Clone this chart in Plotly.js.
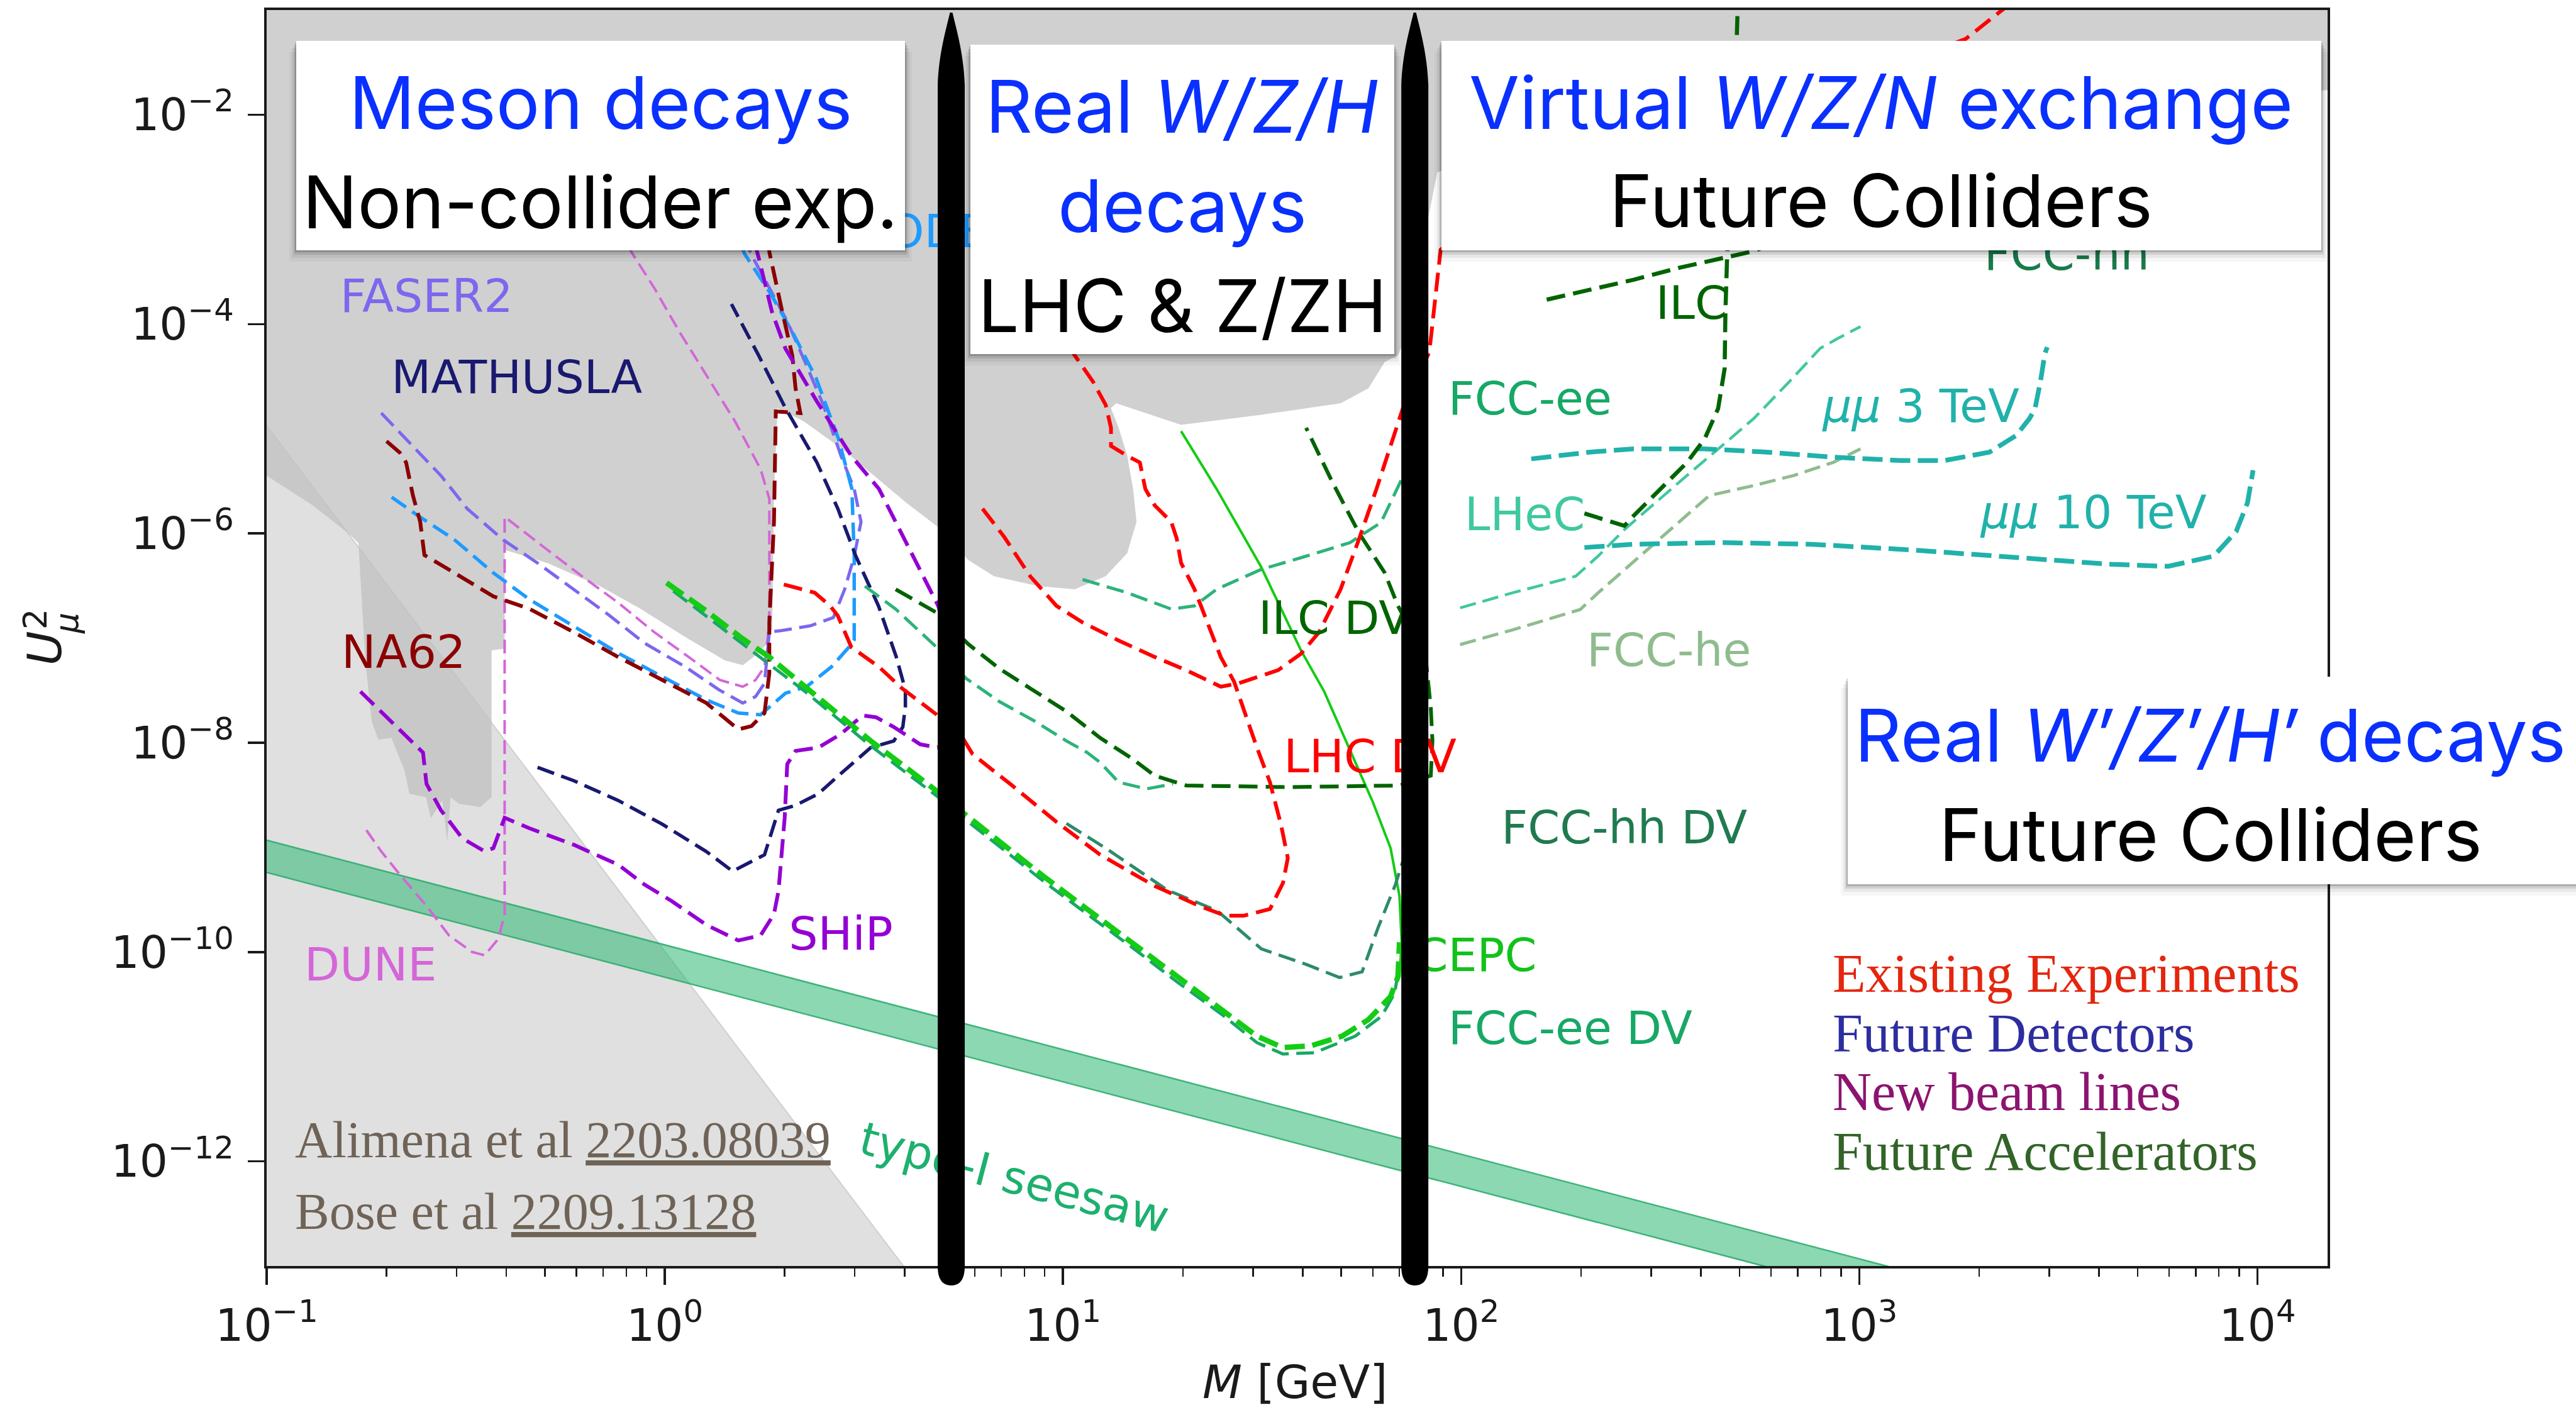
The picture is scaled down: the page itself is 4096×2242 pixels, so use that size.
<!DOCTYPE html>
<html>
<head>
<meta charset="utf-8">
<script src="https://cdn.plot.ly/plotly-3.0.1.min.js"></script>
<style>
  html, body { margin: 0; padding: 0; background: #ffffff; }
  #chart { width: 4096px; height: 2242px; }
</style>
</head>
<body>
<div id="chart"></div>
<script>
// ---------------- HNL muon-mixing sensitivity: data (M in GeV, U^2) ----------------

// Excluded region from existing searches (grey) and BBN-disfavoured corner (light grey)
const existingM  = [0.1, 0.1, 0.1305, 0.1623, 0.170, 0.1768, 0.1836, 0.1907, 0.2058, 0.222, 0.2284, 0.2512, 0.2585, 0.2762, 0.2842, 0.2897, 0.3039, 0.3437, 0.3672, 0.3672, 0.396, 0.396, 0.507, 0.687, 0.871, 1.126, 1.414, 1.57, 1.69, 1.79, 1.86, 1.88, 1.92, 2.23, 2.80, 3.36, 4.02, 4.91, 5.77, 6.71, 8.67, 10.7, 12.8, 14.5, 15.3, 15.0, 14.5, 13.8, 13.2, 13.6, 16.6, 19.8, 31.5, 49.8, 58.5, 64.3, 69.4, 77.1, 81.5, 87.1, 110, 286, 1186, 4930, 15000, 15000];
const existingU2 = [0.1, 3.56e-6, 1.85e-6, 9.65e-7, 8.05e-7, 6.35e-8, 1.60e-8, 1.07e-8, 1.11e-8, 5.40e-9, 3.25e-9, 3.02e-9, 1.89e-9, 2.81e-9, 1.14e-9, 3.02e-9, 2.61e-9, 2.43e-9, 3.02e-9, 7.62e-8, 7.91e-8, 6.96e-7, 5.21e-7, 3.13e-7, 1.89e-7, 1.02e-7, 6.12e-8, 5.50e-8, 6.84e-8, 8.50e-8, 1.22e-7, 2.39e-6, 1.57e-5, 1.18e-5, 6.35e-6, 3.56e-6, 1.99e-6, 1.11e-6, 5.60e-7, 3.90e-7, 3.13e-7, 2.92e-7, 3.90e-7, 6.47e-7, 1.29e-6, 2.66e-6, 5.50e-6, 1.02e-5, 1.57e-5, 1.75e-5, 1.36e-5, 1.09e-5, 1.36e-5, 1.75e-5, 2.43e-5, 4.34e-5, 5.02e-5, 1.29e-4, 7.90e-4, 2.81e-3, 4.04e-3, 5.81e-3, 9.31e-3, 1.34e-2, 1.72e-2, 0.1];
const bbnM  = [0.1, 4.4, 0.1];
const bbnU2 = [1.06e-5, 6e-14, 6e-14];

// Type-I seesaw band (U^2 = m_nu / M)
const seesawM       = [0.1, 15000];
const seesawUpperU2 = [1.17e-9, 7.8e-15];
const seesawLowerU2 = [5.75e-10, 3.83e-15];

// Non-collider experiments
const na62M  = [0.200, 0.216, 0.224, 0.233, 0.243, 0.249, 0.287, 0.371, 0.457, 0.590, 0.763, 0.986, 1.27, 1.53, 1.65, 1.78, 1.83, 1.83, 1.88, 1.90, 2.19, 2.13, 2.09, 1.97, 1.88, 1.83, 1.78];
const na62U2 = [7.6e-6, 5.9e-6, 4.75e-6, 2.3e-6, 1.29e-6, 6.2e-7, 4.5e-7, 2.5e-7, 1.9e-7, 1.14e-7, 6.6e-8, 4.0e-8, 2.4e-8, 1.34e-8, 1.44e-8, 1.92e-8, 4.6e-8, 1.41e-7, 1.29e-6, 1.46e-5, 1.41e-5, 2.43e-5, 5.0e-5, 1.34e-4, 3.2e-4, 4.9e-4, 1.6e-3];
const faser2M  = [0.194, 0.229, 0.274, 0.319, 0.393, 0.479, 0.590, 0.728, 0.888, 1.126, 1.37, 1.57, 1.69, 1.78, 1.83, 1.97, 2.32, 2.65, 2.83, 2.99, 3.11, 2.99, 2.77, 2.50, 2.25, 2.03, 1.83, 1.65, 1.47];
const faser2U2 = [1.41e-5, 7.35e-6, 3.56e-6, 1.72e-6, 8.65e-7, 5.21e-7, 2.92e-7, 1.63e-7, 8.97e-8, 5.30e-8, 3.19e-8, 2.39e-8, 2.76e-8, 3.69e-8, 1.14e-7, 1.18e-7, 1.31e-7, 1.57e-7, 2.92e-7, 6.02e-7, 1.29e-6, 2.66e-6, 5.50e-6, 1.69e-5, 4.34e-5, 1.06e-4, 2.22e-4, 4.58e-4, 1.36e-3];
const duneM  = [0.178, 0.194, 0.216, 0.254, 0.287, 0.328, 0.353, 0.382, 0.396, 0.396, 0.396, 0.507, 0.619, 0.763, 0.940, 1.148, 1.375, 1.57, 1.69, 1.78, 1.83, 1.83, 1.74, 1.50, 1.27, 1.09, 0.940, 0.823, 0.721];
const duneU2 = [1.46e-9, 9.14e-10, 5.50e-10, 2.66e-10, 1.44e-10, 1.0e-10, 9.3e-11, 1.34e-10, 2.30e-10, 4.93e-8, 1.44e-6, 6.96e-7, 3.90e-7, 2.18e-7, 1.14e-7, 6.59e-8, 3.97e-8, 3.43e-8, 3.97e-8, 5.30e-8, 1.41e-7, 2.14e-6, 4.11e-6, 1.18e-5, 3.25e-5, 8.34e-5, 2.22e-4, 4.93e-4, 1.36e-3];
const shipM  = [0.172, 0.206, 0.247, 0.252, 0.274, 0.310, 0.353, 0.371, 0.396, 0.457, 0.590, 0.763, 0.888, 1.039, 1.27, 1.53, 1.74, 1.88, 1.93, 2.00, 2.03, 2.13, 2.43, 2.76, 3.14, 3.39, 3.76, 4.38, 4.86, 5.29, 5.29, 4.86, 4.02, 3.45, 2.94, 2.41, 2.01, 1.86, 1.73, 1.61];
const shipU2 = [3.08e-8, 1.60e-8, 8.05e-9, 4.04e-9, 2.26e-9, 1.22e-9, 9.14e-10, 9.82e-10, 1.92e-9, 1.52e-9, 1.06e-9, 6.84e-10, 4.42e-10, 3.08e-10, 1.82e-10, 1.29e-10, 1.44e-10, 2.30e-10, 3.83e-10, 1.92e-9, 6.24e-9, 8.34e-9, 8.97e-9, 1.20e-8, 1.82e-8, 1.75e-8, 1.41e-8, 9.64e-9, 8.97e-9, 1.49e-8, 6.35e-8, 2.03e-7, 8.65e-7, 2.66e-6, 5.50e-6, 1.82e-5, 5.80e-5, 1.29e-4, 3.96e-4, 1.14e-3];
const mathuslaM  = [0.479, 0.590, 0.763, 0.986, 1.27, 1.48, 1.78, 1.93, 2.13, 2.43, 2.76, 3.29, 3.76, 3.96, 4.02, 4.02, 3.81, 3.44, 3.02, 2.72, 2.41, 2.01, 1.72, 1.47];
const mathuslaU2 = [5.81e-9, 4.34e-9, 2.81e-9, 1.66e-9, 9.14e-10, 5.91e-10, 8.50e-10, 2.26e-9, 2.52e-9, 3.25e-9, 5.02e-9, 8.97e-9, 1.04e-8, 1.41e-8, 2.22e-8, 3.19e-8, 6.67e-8, 2.03e-7, 6.02e-7, 1.72e-6, 4.75e-6, 1.57e-5, 5.02e-5, 1.55e-4];
const codexM  = [0.206, 0.239, 0.295, 0.371, 0.457, 0.590, 0.763, 0.986, 1.27, 1.53, 1.74, 1.88, 2.01, 2.27, 2.62, 2.91, 2.99, 2.99, 2.95, 2.73, 2.40, 2.11, 1.85, 1.59, 1.40];
const codexU2 = [2.22e-6, 1.49e-6, 8.81e-7, 4.19e-7, 2.34e-7, 1.31e-7, 7.19e-8, 4.27e-8, 2.57e-8, 1.92e-8, 1.85e-8, 2.39e-8, 2.97e-8, 3.43e-8, 5.30e-8, 8.31e-8, 9.64e-8, 6.02e-7, 2.66e-6, 8.01e-6, 3.02e-5, 7.87e-5, 1.91e-4, 4.62e-4, 1.36e-3];

// LHC (displaced vertex and prompt)
const lhcDvM  = [1.99, 2.38, 2.60, 2.72, 2.94, 3.45, 3.94, 4.82, 5.60, 5.93, 7.45, 9.63, 12.4, 17.0, 22.0, 25.6, 28.4, 33.1, 35.7, 36.7, 35.3, 33.1, 30.7, 28.4, 26.9, 24.9, 23.1, 21.4, 19.8, 19.3, 18.7, 17.0, 16.1, 15.6, 14.5, 13.2, 13.2, 12.8, 11.9, 10.7, 9.35];
const lhcDvU2 = [3.25e-7, 2.71e-7, 2.03e-7, 1.63e-7, 8.19e-8, 5.30e-8, 3.31e-8, 1.85e-8, 1.11e-8, 7.76e-9, 3.90e-9, 1.75e-9, 8.50e-10, 4.27e-10, 2.76e-10, 2.22e-10, 2.22e-10, 2.57e-10, 4.58e-10, 7.91e-10, 1.63e-9, 4.19e-9, 8.97e-9, 2.14e-8, 3.83e-8, 6.59e-8, 1.41e-7, 2.92e-7, 5.21e-7, 8.97e-7, 1.29e-6, 1.85e-6, 2.66e-6, 4.75e-6, 5.50e-6, 6.84e-6, 1.02e-5, 1.69e-5, 2.81e-5, 5.02e-5, 1.29e-4];
const lhcM  = [6.28, 7.11, 8.27, 9.63, 11.2, 13.8, 17.0, 20.4, 24.9, 27.6, 34.7, 39.6, 44.0, 49.8, 55.3, 61.3, 71.4, 80.0, 83.2, 88.8, 110, 738, 1850, 2350];
const lhcU2 = [1.72e-6, 9.31e-7, 3.90e-7, 2.03e-7, 1.41e-7, 9.46e-8, 6.59e-8, 4.93e-8, 3.43e-8, 3.69e-8, 4.93e-8, 7.08e-8, 1.14e-7, 2.92e-7, 8.65e-7, 2.66e-6, 1.57e-5, 4.04e-5, 5.40e-5, 5.12e-4, 9.47e-4, 1.44e-2, 5.30e-2, 0.109];

// Future colliders
const cepcM  = [1.01, 1.27, 1.57, 1.83, 2.25, 2.75, 3.29, 3.98, 4.86, 5.71, 6.91, 8.93, 11.5, 14.9, 19.3, 25.1, 30.7, 35.7, 42.0, 50.2, 58.5, 66.5, 69.4, 70.0];
const cepcU2 = [3.37e-7, 1.82e-7, 9.82e-8, 6.59e-8, 3.43e-8, 1.79e-8, 1.04e-8, 6.02e-9, 3.37e-9, 2.03e-9, 1.14e-9, 5.30e-10, 2.57e-10, 1.24e-10, 5.81e-11, 2.81e-11, 1.57e-11, 1.22e-11, 1.27e-11, 1.57e-11, 2.26e-11, 3.76e-11, 5.81e-11, 1.24e-10];
const cepcSolidM  = [19.8, 24.3, 31.4, 39.6, 45.3, 52.7, 60.0, 66.5, 70.0, 70.9, 70.0];
const cepcSolidU2 = [9.47e-6, 2.66e-6, 4.84e-7, 7.62e-8, 3.08e-8, 8.19e-9, 2.71e-9, 9.82e-10, 3.43e-10, 1.24e-10, 5.81e-11];
const fccEeDvM  = [1.05, 1.57, 2.25, 3.29, 4.86, 5.71, 6.91, 8.93, 11.5, 14.9, 19.3, 25.1, 30.7, 35.7, 42.8, 54.2, 63.1, 68.1, 70.0];
const fccEeDvU2 = [2.81e-7, 8.81e-8, 3.08e-8, 9.31e-9, 3.02e-9, 1.82e-9, 1.02e-9, 4.75e-10, 2.30e-10, 1.11e-10, 5.21e-11, 2.52e-11, 1.36e-11, 1.06e-11, 1.09e-11, 1.57e-11, 2.43e-11, 4.04e-11, 7.76e-11];
const ilcDvM  = [3.80, 4.81, 5.77, 6.91, 8.27, 10.2, 12.4, 14.9, 17.0, 20.4, 36.7, 70.0, 83.9, 84.7, 83.9, 81.5, 69.4, 64.3, 55.3, 47.5, 40.8];
const ilcDvU2 = [2.92e-7, 1.75e-7, 8.81e-8, 5.12e-8, 3.31e-8, 1.99e-8, 1.11e-8, 7.08e-9, 4.84e-9, 3.90e-9, 3.76e-9, 3.90e-9, 4.84e-9, 1.04e-8, 2.14e-8, 6.35e-8, 2.03e-7, 4.19e-7, 1.02e-6, 3.08e-6, 1.02e-5];
const fccHhDvM  = [10.2, 12.8, 18.3, 24.4, 31.5, 40.8, 49.5, 56.4, 61.9, 68.4, 72.0];
const fccHhDvU2 = [1.69e-9, 9.82e-10, 3.90e-10, 2.48e-10, 1.07e-10, 7.62e-11, 5.70e-11, 6.47e-11, 1.72e-10, 4.42e-10, 8.19e-10];
const fccEeM  = [3.18, 3.80, 4.81, 5.71, 6.91, 8.51, 10.2, 11.5, 12.4, 13.8, 16.2, 18.9, null, 11.2, 14.5, 18.7, 21.4, 24.3, 31.4, 40.6, 52.6, 62.9, 71.6, 75.5];
const fccEeU2 = [3.13e-7, 1.89e-7, 8.19e-8, 4.11e-8, 2.48e-8, 1.60e-8, 1.04e-8, 8.05e-9, 6.47e-9, 4.19e-9, 3.62e-9, 4.04e-9, null, 3.62e-7, 2.71e-7, 1.89e-7, 2.03e-7, 2.92e-7, 4.51e-7, 6.02e-7, 8.16e-7, 1.27e-6, 3.56e-6, 7.08e-6];
const ilcM  = [164, 210, 271, 351, 453, 543, 738, null, 204, 257, 271, 316, 369, 409, 442, 459, 461, 466, 481, 495];
const ilcU2 = [1.71e-4, 2.13e-4, 2.65e-4, 3.43e-4, 4.28e-4, 4.97e-4, 7.90e-4, null, 1.55e-6, 1.18e-6, 1.47e-6, 2.66e-6, 4.75e-6, 8.01e-6, 1.56e-5, 3.76e-5, 1.29e-4, 4.93e-4, 3.37e-3, 0.106];
const lhecM  = [99.4, 135, 194, 221, 258, 308, 369, 453, 543, 667, 798, 885, 1007];
const lhecU2 = [1.94e-7, 2.71e-7, 3.90e-7, 6.08e-7, 1.10e-6, 1.98e-6, 3.57e-6, 6.93e-6, 1.25e-5, 2.81e-5, 5.87e-5, 7.32e-5, 9.47e-5];
const fccHeM  = [99.4, 135, 199, 221, 258, 308, 369, 420, 543, 684, 863, 1007];
const fccHeU2 = [8.65e-8, 1.20e-7, 1.87e-7, 2.71e-7, 4.54e-7, 8.16e-7, 1.47e-6, 2.30e-6, 2.86e-6, 3.57e-6, 4.79e-6, 6.42e-6];
const mumu3M  = [150, 210, 271, 409, 587, 863, 1268, 1641, 2123, 2477, 2675, 2762, 2855, 2924, 2965];
const mumu3U2 = [5.15e-6, 5.97e-6, 6.42e-6, 6.42e-6, 5.97e-6, 5.34e-6, 4.97e-6, 4.97e-6, 5.97e-6, 8.61e-6, 1.25e-5, 1.55e-5, 2.92e-5, 5.21e-5, 6.02e-5];
const mumu10M  = [204, 271, 453, 759, 1365, 2630, 4300, 5970, 7760, 8840, 9440, 9750];
const mumu10U2 = [7.32e-7, 7.87e-7, 8.16e-7, 7.87e-7, 6.93e-7, 5.78e-7, 5.06e-7, 4.84e-7, 6.06e-7, 1.04e-6, 1.96e-6, 4.01e-6];

// Curve labels (anchored at their left edge)
const labelText  = ['FASER2', 'MATHUSLA', 'NA62', 'DUNE', 'SHiP', 'CODEX-b', 'ILC DV', 'LHC DV', 'FCC-hh DV', 'CEPC', 'FCC-ee DV', 'FCC-ee', 'LHeC', 'FCC-he', 'ILC', 'FCC-hh', '<i>μμ</i> 3 TeV', '<i>μμ</i> 10 TeV'];
const labelM     = [0.1529, 0.2057, 0.1541, 0.1244, 2.048, 3.02, 30.96, 35.86, 126.2, 77.0, 92.8, 92.8, 102.0, 206.8, 308.1, 2058, 809, 2018];
const labelU2    = [1.68e-4, 2.81e-5, 6.67e-8, 6.84e-11, 1.35e-10, 6.96e-4, 1.41e-7, 6.71e-9, 1.41e-9, 8.49e-11, 1.69e-11, 1.77e-5, 1.39e-6, 6.91e-8, 1.44e-4, 4.27e-4, 1.50e-5, 1.44e-6];
const labelColor = ['#7b68ee', '#191970', '#8b0000', '#d466d8', '#9400d3', '#1e9bff', '#006400', '#ff0000', '#207a50', '#12c21a', '#17a866', '#17a866', '#40c8a0', '#8fbc8f', '#006400', '#1a7a4a', '#20b2aa', '#20b2aa'];

// Masses separating the production regimes (b-meson / W mass scale)
const regimeEdgesM = [5.24, 76.5];

// Axis ticks
const xTickVals = [0.1, 1, 10, 100, 1000, 10000];
const xTickText = ['10<sup>\u22121</sup>', '10<sup>0</sup>', '10<sup>1</sup>', '10<sup>2</sup>', '10<sup>3</sup>', '10<sup>4</sup>'];
const yTickVals = [1e-12, 1e-10, 1e-8, 1e-6, 1e-4, 1e-2];
const yTickText = ['10<sup>\u221212</sup>', '10<sup>\u221210</sup>', '10<sup>\u22128</sup>', '10<sup>\u22126</sup>', '10<sup>\u22124</sup>', '10<sup>\u22122</sup>'];

// ---------------- drawing ----------------
const W = 4096, H = 2242;
const M = { l: 424, r: 395, t: 16, b: 229 };
const PW = W - M.l - M.r, PH = H - M.t - M.b;
const px2x = p => (p - M.l) / PW;          // pixel -> paper x
const px2y = p => (H - M.b - p) / PH;      // pixel -> paper y

const xMinor = [];
for (let d = -1; d <= 4; d++) for (let k = 2; k <= 9; k++) {
  const v = k * Math.pow(10, d);
  if (v < 15000) xMinor.push(v);
}

function dashed(x, y, color, width, dash) {
  return { type: 'scatter', mode: 'lines', x, y, hoverinfo: 'skip', showlegend: false,
           connectgaps: false, line: { color, width, dash: dash || 'solid' } };
}

const SANS = 'DejaVu Sans, sans-serif';

const traces = [
  { type: 'scatter', mode: 'lines', x: bbnM, y: bbnU2, fill: 'toself', fillcolor: '#e0e0e0',
    line: { color: '#cfcfcf', width: 2 }, hoverinfo: 'skip', showlegend: false },
  { type: 'scatter', mode: 'lines', x: existingM, y: existingU2, fill: 'toself',
    fillcolor: 'rgba(192,192,192,0.74)', line: { width: 0 }, hoverinfo: 'skip', showlegend: false },
  { type: 'scatter', mode: 'lines', x: seesawM, y: seesawUpperU2,
    line: { color: 'rgba(40,170,105,0.85)', width: 2.5 }, hoverinfo: 'skip', showlegend: false },
  { type: 'scatter', mode: 'lines', x: seesawM, y: seesawLowerU2, fill: 'tonexty',
    fillcolor: 'rgba(46,184,114,0.55)', line: { color: 'rgba(40,170,105,0.85)', width: 2.5 },
    hoverinfo: 'skip', showlegend: false },

  dashed(duneM, duneU2, '#d466d8', 4, '22px,10px'),
  dashed(faser2M, faser2U2, '#7b68ee', 5, '28px,12px'),
  dashed(codexM, codexU2, '#1e9bff', 5.5, '28px,12px'),
  dashed(na62M, na62U2, '#8b0000', 6, '30px,13px'),
  dashed(mathuslaM, mathuslaU2, '#191970', 5.5, '28px,12px'),
  dashed(shipM, shipU2, '#9400d3', 6, '30px,13px'),

  dashed(fccEeDvM, fccEeDvU2, '#17a866', 5, '28px,12px'),
  dashed(cepcM, cepcU2, '#14cc14', 8.5, '32px,12px'),
  dashed(cepcSolidM, cepcSolidU2, '#14cc14', 4, 'solid'),
  dashed(fccEeM, fccEeU2, '#2db37a', 5, '28px,12px'),
  dashed(fccHhDvM, fccHhDvU2, '#2e8b6a', 5, '28px,12px'),
  dashed(ilcDvM, ilcDvU2, '#006400', 6, '30px,13px'),
  dashed(lhcDvM, lhcDvU2, '#ff0000', 6, '30px,13px'),
  dashed(lhcM, lhcU2, '#ff0000', 6, '30px,13px'),

  dashed(fccHeM, fccHeU2, '#8fbc8f', 5, '26px,11px'),
  dashed(lhecM, lhecU2, '#40c8a0', 4.5, '26px,11px'),
  dashed(mumu3M, mumu3U2, '#20b2aa', 7.5, '32px,12px'),
  dashed(mumu10M, mumu10U2, '#20b2aa', 7.5, '32px,12px'),
  dashed(ilcM, ilcU2, '#006400', 6.5, '30px,13px'),

  { type: 'scatter', mode: 'text', x: labelM, y: labelU2, text: labelText,
    textposition: 'middle right', hoverinfo: 'skip', showlegend: false,
    textfont: { family: SANS, size: 73, color: labelColor } }
];

// white caption boxes with a soft drop shadow
function rectPx(x0, y0, x1, y1, fill) {
  return { type: 'rect', xref: 'paper', yref: 'paper', layer: 'above',
           x0: px2x(x0), x1: px2x(x1), y0: px2y(y1), y1: px2y(y0),
           fillcolor: fill, line: { width: 0 } };
}
function boxWithShadow(x0, y0, x1, y1) {
  const out = [];
  [[3, 2, 0.16], [7, 4, 0.10], [12, 7, 0.06], [18, 11, 0.035]].forEach(([d, s, a]) => {
    out.push(rectPx(x0 - s, y0 + d, x1 + s, y1 + d, 'rgba(0,0,0,' + a + ')'));
  });
  out.push(rectPx(x0, y0, x1, y1, '#ffffff'));
  return out;
}

const strokePath = 'M -2,0.998 L 2,0.998 C 8,0.985 20,0.965 21.5,0.94 L 21.5,0 ' +
  'C 21.5,-0.012 12,-0.0155 0,-0.0155 C -12,-0.0155 -21.5,-0.012 -21.5,0 ' +
  'L -21.5,0.94 C -20,0.965 -8,0.985 -2,0.998 Z';

const shapes = [
  ...boxWithShadow(471, 65, 1439, 398),
  ...boxWithShadow(1543, 71, 2217, 563),
  ...boxWithShadow(2292, 65, 3691, 398),
  ...boxWithShadow(2938, 1076, 4096, 1406),
  { type: 'line', xref: 'x', yref: 'y', layer: 'above',
    x0: 3.62, y0: 1.57e-12, x1: 15.9, y1: 3.56e-13,
    line: { color: 'rgba(0,0,0,0)', width: 0 },
    label: { text: 'type-I seesaw', textposition: 'middle', yanchor: 'middle', padding: 0,
             font: { family: SANS, size: 73, color: '#1db06e' } } },
  ...regimeEdgesM.map(m => ({
    type: 'path', xref: 'x', yref: 'paper', xsizemode: 'pixel', xanchor: m, layer: 'above',
    path: strokePath, fillcolor: '#000000', line: { width: 0 } }))
];

const boxFont = (color, size) => ({ family: 'Inter, "Liberation Sans", sans-serif', size: size || 116, color });
const BLUE = '#0a30ff';
function note(text, x, y, font, xanchor) {
  return { xref: 'paper', yref: 'paper', x, y, text, showarrow: false,
           xanchor: xanchor || 'center', yanchor: 'middle', font };
}
const serif = (color, size) => ({ family: '"Liberation Serif", "DejaVu Serif", serif', size: size || 86, color });

const annotations = [
  note('Meson decays', 0.1620, 0.9264, boxFont(BLUE)),
  note('Non-collider exp.', 0.1620, 0.8473, boxFont('#000000')),
  note('Real <i>W/Z/H</i>', 0.4443, 0.9232, boxFont(BLUE)),
  note('decays', 0.4443, 0.8441, boxFont(BLUE)),
  note('LHC &amp; Z/ZH', 0.4443, 0.7647, boxFont('#000000')),
  note('Virtual <i>W/Z/N</i> exchange', 0.7833, 0.9264, boxFont(BLUE)),
  note('Future Colliders', 0.7833, 0.8482, boxFont('#000000')),
  note('Real <i>W\u2032/Z\u2032/H\u2032</i> decays', 0.9432, 0.4224, boxFont(BLUE)),
  note('Future Colliders', 0.9432, 0.3437, boxFont('#000000')),

  note('Alimena et al <u>2203.08039</u>', 0.0130, 0.1005, serif('#6f6357', 82), 'left'),
  note('Bose et al <u>2209.13128</u>', 0.0130, 0.0431, serif('#6f6357', 82), 'left'),

  note('Existing Experiments', 0.7592, 0.2329, serif('#e4260f'), 'left'),
  note('Future Detectors', 0.7592, 0.1855, serif('#2d2da0'), 'left'),
  note('New beam lines', 0.7592, 0.1385, serif('#8c1470'), 'left'),
  note('Future Accelerators', 0.7592, 0.0909, serif('#326428'), 'left'),

  // axis titles
  note('<i>M</i> [GeV]', 0.4992, -0.0925, { family: SANS, size: 73, color: '#1a1a1a' }),
  Object.assign(note('<i>U</i>', -0.1079, 0.4918, { family: SANS, size: 75, color: '#1a1a1a' }), { textangle: -90 }),
  Object.assign(note('2', -0.1125, 0.5150, { family: SANS, size: 52, color: '#1a1a1a' }), { textangle: -90 }),
  Object.assign(note('<i>μ</i>', -0.0972, 0.5120, { family: SANS, size: 52, color: '#1a1a1a' }), { textangle: -90 })
];

const axisCommon = {
  type: 'log', showgrid: false, zeroline: false, showline: true, mirror: true,
  linecolor: '#1a1a1a', linewidth: 4, ticks: 'outside', ticklen: 26, tickwidth: 3.5,
  tickcolor: '#1a1a1a', tickmode: 'array', fixedrange: true,
  tickfont: { family: SANS, size: 71, color: '#1a1a1a' }
};

const layout = {
  width: W, height: H, margin: M,
  paper_bgcolor: '#ffffff', plot_bgcolor: '#ffffff', showlegend: false,
  xaxis: Object.assign({}, axisCommon, {
    range: [-1, Math.log10(15000)], tickvals: xTickVals, ticktext: xTickText, ticklabelstandoff: 4,
    minor: { tickmode: 'array', tickvals: xMinor, ticks: 'outside', ticklen: 13, tickwidth: 2.5,
             tickcolor: '#1a1a1a', showgrid: false }
  }),
  yaxis: Object.assign({}, axisCommon, {
    range: [-13, -1], tickvals: yTickVals, ticktext: yTickText, ticklabelstandoff: 8
  }),
  shapes, annotations
};

Plotly.newPlot('chart', traces, layout, { displayModeBar: false, staticPlot: true });
</script>
</body>
</html>
